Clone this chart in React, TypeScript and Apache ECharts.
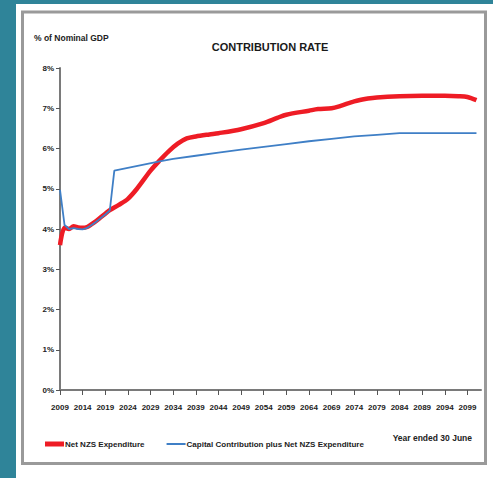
import React, { useEffect, useRef } from "react";
import * as echarts from "echarts";

const years: string[] = [];
for (let y = 2009; y <= 2102; y++) years.push(String(y));

const netNZS: [string, number][] = [
  ["2009", 3.6], ["2010", 4.03], ["2011", 4.0], ["2012", 4.07], ["2013", 4.04],
  ["2014", 4.03], ["2015", 4.05], ["2016", 4.12], ["2017", 4.2], ["2018", 4.29],
  ["2019", 4.38], ["2020", 4.47], ["2022", 4.6], ["2024", 4.75], ["2026", 5.0],
  ["2029", 5.45], ["2031", 5.7], ["2033", 5.93], ["2035", 6.12], ["2037", 6.25],
  ["2039", 6.3], ["2042", 6.35], ["2044", 6.38], ["2049", 6.48], ["2054", 6.63],
  ["2057", 6.76], ["2059", 6.84], ["2064", 6.94], ["2066", 6.98], ["2069", 7.0],
  ["2071", 7.06], ["2074", 7.17], ["2077", 7.24], ["2079", 7.27], ["2084", 7.3],
  ["2089", 7.31], ["2094", 7.31], ["2097", 7.3], ["2099", 7.28], ["2101", 7.2],
];

const capitalPlusNet: [string, number][] = [
  ["2009", 4.97], ["2010", 4.1], ["2011", 4.0], ["2012", 4.02], ["2013", 4.0],
  ["2014", 3.99], ["2015", 4.03], ["2016", 4.1], ["2017", 4.18], ["2018", 4.27],
  ["2019", 4.36], ["2020", 4.46], ["2021", 5.45], ["2031", 5.68], ["2034", 5.74],
  ["2039", 5.82], ["2044", 5.9], ["2049", 5.97], ["2054", 6.04], ["2059", 6.11],
  ["2064", 6.18], ["2069", 6.24], ["2074", 6.3], ["2079", 6.34], ["2084", 6.38],
  ["2089", 6.38], ["2094", 6.38], ["2099", 6.38], ["2101", 6.38],
];

const FONT = "'Liberation Sans', Arial, sans-serif";

export default function App() {
  const ref = useRef<HTMLDivElement>(null);
  useEffect(() => {
    if (!ref.current) return;
    const chart = echarts.init(ref.current, null, { renderer: "svg" });
    chart.setOption({
      animation: false,
      backgroundColor: "#2F8499",
      graphic: [
        { type: "rect", z: -10, shape: { x: 16, y: 4, width: 477, height: 474 }, style: { fill: "#ffffff" } },
        {
          type: "rect", z: -9,
          shape: { x: 22.5, y: 12, width: 463, height: 451.5 },
          style: { fill: "#ffffff", stroke: "#9a9a9a", lineWidth: 3 },
        },
      ],
      title: [
        {
          text: "CONTRIBUTION RATE", left: 265, top: 36, textAlign: "center",
          textStyle: { fontFamily: FONT, fontSize: 11, fontWeight: "bold", color: "#1a1a1a" },
        },
        {
          text: "% of Nominal GDP", left: 29, top: 28,
          textStyle: { fontFamily: FONT, fontSize: 8.5, fontWeight: "bold", color: "#222" },
        },
        {
          text: "Year ended 30 June", right: 16, top: 428,
          textStyle: { fontFamily: FONT, fontSize: 8.5, fontWeight: "bold", color: "#222" },
        },
      ],
      legend: {
        left: 40, top: 435, itemWidth: 19, itemHeight: 14, itemGap: 22,
        textStyle: { fontFamily: FONT, fontSize: 8, fontWeight: "bold", color: "#222", padding: [0, 0, 0, -4] },
        data: [
          { name: "Net NZS Expenditure", icon: "path://M0 0H19V5H0Z", itemStyle: { color: "#EE1C25" } },
          { name: "Capital Contribution plus Net NZS Expenditure", icon: "path://M0 0H19V2H0Z", itemStyle: { color: "#3F7FC6" } },
        ],
      },
      grid: { left: 60, top: 68, width: 421, height: 322 },
      xAxis: {
        type: "category", data: years, boundaryGap: false,
        axisLine: { lineStyle: { color: "#7a7a7a", width: 2 } },
        axisTick: { interval: 4, length: 5, lineStyle: { color: "#555", width: 1 } },
        axisLabel: { interval: 4, margin: 13, fontFamily: FONT, fontSize: 8, fontWeight: "bold", color: "#222" },
        splitLine: { show: false },
      },
      yAxis: {
        type: "value", min: 0, max: 8, interval: 1,
        axisLine: { show: true, lineStyle: { color: "#7a7a7a", width: 2 } },
        axisTick: { show: true, length: 4, lineStyle: { color: "#555", width: 1 } },
        axisLabel: { formatter: "{value}%", margin: 6, fontFamily: FONT, fontSize: 8, fontWeight: "bold", color: "#222" },
        splitLine: { show: false },
      },
      series: [
        {
          name: "Net NZS Expenditure", type: "line", data: netNZS, smooth: 0.3,
          symbol: "none", lineStyle: { color: "#EE1C25", width: 4.5 }, itemStyle: { color: "#EE1C25" }, z: 2,
        },
        {
          name: "Capital Contribution plus Net NZS Expenditure", type: "line", data: capitalPlusNet,
          symbol: "none", lineStyle: { color: "#3F7FC6", width: 1.8 }, itemStyle: { color: "#3F7FC6" }, z: 3,
        },
      ],
    });
    return () => chart.dispose();
  }, []);
  return <div ref={ref} style={{ position: "fixed", left: 0, top: 0, width: 493, height: 478 }} />;
}
